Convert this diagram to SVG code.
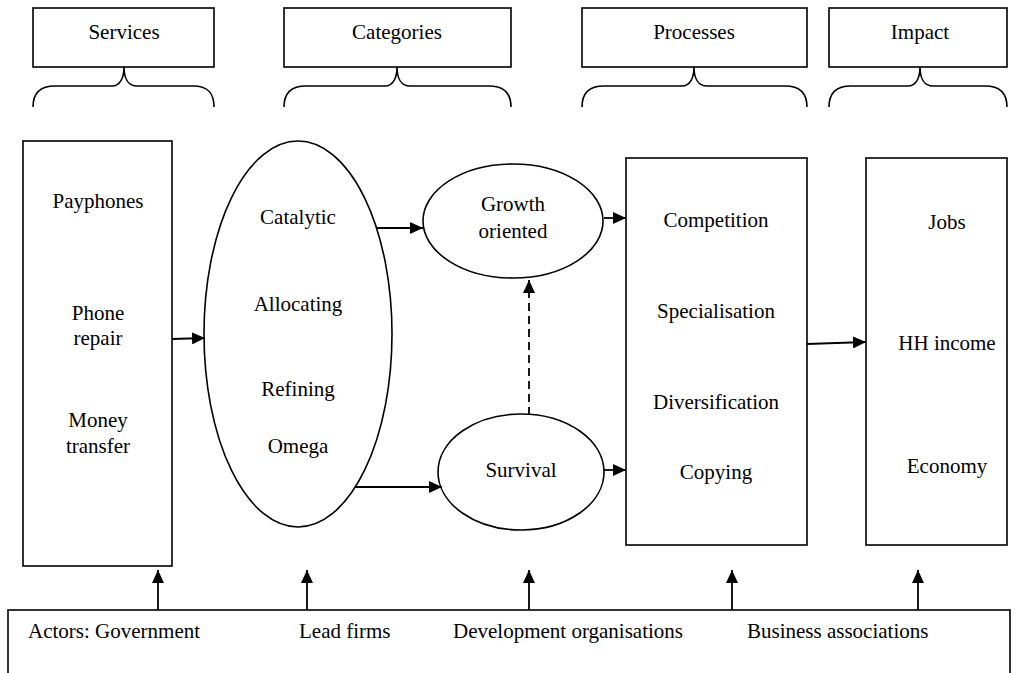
<svg xmlns="http://www.w3.org/2000/svg" width="1018" height="673" viewBox="0 0 1018 673" font-family="Liberation Serif">
<style>
.s{fill:none;stroke:#000;stroke-width:1.6}
.b{fill:#fff;stroke:#000;stroke-width:1.6}
.c{fill:none;stroke:#000;stroke-width:1.8}
.d{stroke-dasharray:8,5}
</style>
<defs>
<marker id="ah" markerUnits="userSpaceOnUse" markerWidth="14" markerHeight="12" refX="13" refY="6" orient="auto">
<path d="M0,0 L13,6 L0,12 Z" fill="#000"/>
</marker>
</defs>
<rect x="0" y="0" width="1018" height="673" fill="#fff"/>
<g id="hdr-services">
<rect class="b" x="33" y="8" width="181" height="59"/>
<text x="124" y="39" font-family="Liberation Serif" font-size="21" text-anchor="middle">Services</text>
<path class="s" d="M33,107 C33,93 40,86 55,86 L112,86 C120,86 124,78 124,67 C124,78 128,86 137,86 L193,86 C208,86 214,93 214,107"/>
</g>
<g id="hdr-categories">
<rect class="b" x="284" y="8" width="227" height="59"/>
<text x="397" y="39" font-family="Liberation Serif" font-size="21" text-anchor="middle">Categories</text>
<path class="s" d="M284,107 C284,93 291,86 306,86 L385,86 C393,86 397,78 397,67 C397,78 401,86 410,86 L489,86 C504,86 511,93 511,107"/>
</g>
<g id="hdr-processes">
<rect class="b" x="582" y="8" width="225" height="59"/>
<text x="694" y="39" font-family="Liberation Serif" font-size="21" text-anchor="middle">Processes</text>
<path class="s" d="M582,107 C582,93 589,86 604,86 L682,86 C690,86 694,78 694,67 C694,78 698,86 707,86 L785,86 C800,86 807,93 807,107"/>
</g>
<g id="hdr-impact">
<rect class="b" x="829" y="8" width="178" height="59"/>
<text x="920" y="39" font-family="Liberation Serif" font-size="21" text-anchor="middle">Impact</text>
<path class="s" d="M829,107 C829,93 836,86 851,86 L908,86 C916,86 920,78 920,67 C920,78 924,86 933,86 L985,86 C1000,86 1007,93 1007,107"/>
</g>

<g id="services">
<rect class="b" x="23" y="141" width="149" height="425"/>
<text x="98" y="208" font-family="Liberation Serif" font-size="21" text-anchor="middle">Payphones</text>
<text x="98" y="320" font-family="Liberation Serif" font-size="21" text-anchor="middle">Phone</text>
<text x="98" y="345" font-family="Liberation Serif" font-size="21" text-anchor="middle">repair</text>
<text x="98" y="427" font-family="Liberation Serif" font-size="21" text-anchor="middle">Money</text>
<text x="98" y="453" font-family="Liberation Serif" font-size="21" text-anchor="middle">transfer</text>
</g>
<g id="categories">
<ellipse class="b" cx="298" cy="334" rx="94" ry="193"/>
<text x="298" y="224" font-family="Liberation Serif" font-size="21" text-anchor="middle">Catalytic</text>
<text x="298" y="311" font-family="Liberation Serif" font-size="21" text-anchor="middle">Allocating</text>
<text x="298" y="396" font-family="Liberation Serif" font-size="21" text-anchor="middle">Refining</text>
<text x="298" y="453" font-family="Liberation Serif" font-size="21" text-anchor="middle">Omega</text>
</g>
<g id="growth">
<ellipse class="b" cx="513" cy="221" rx="90" ry="57"/>
<text x="513" y="211" font-family="Liberation Serif" font-size="21" text-anchor="middle">Growth</text>
<text x="513" y="238" font-family="Liberation Serif" font-size="21" text-anchor="middle">oriented</text>
</g>
<g id="survival">
<ellipse class="b" cx="521" cy="472" rx="83" ry="58"/>
<text x="521" y="477" font-family="Liberation Serif" font-size="21" text-anchor="middle">Survival</text>
</g>
<g id="processes">
<rect class="b" x="626" y="158" width="181" height="387"/>
<text x="716" y="227" font-family="Liberation Serif" font-size="21" text-anchor="middle">Competition</text>
<text x="716" y="318" font-family="Liberation Serif" font-size="21" text-anchor="middle">Specialisation</text>
<text x="716" y="409" font-family="Liberation Serif" font-size="21" text-anchor="middle">Diversification</text>
<text x="716" y="479" font-family="Liberation Serif" font-size="21" text-anchor="middle">Copying</text>
</g>
<g id="impact">
<rect class="b" x="866" y="158" width="141" height="387"/>
<text x="947" y="229" font-family="Liberation Serif" font-size="21" text-anchor="middle">Jobs</text>
<text x="947" y="350" font-family="Liberation Serif" font-size="21" text-anchor="middle">HH income</text>
<text x="947" y="473" font-family="Liberation Serif" font-size="21" text-anchor="middle">Economy</text>
</g>
<g id="actors">
<rect class="b" x="8" y="610" width="1002" height="80"/>
<text x="28" y="638" font-family="Liberation Serif" font-size="21">Actors: Government</text>
<text x="299" y="638" font-family="Liberation Serif" font-size="21">Lead firms</text>
<text x="453" y="638" font-family="Liberation Serif" font-size="21">Development organisations</text>
<text x="747" y="638" font-family="Liberation Serif" font-size="21">Business associations</text>
</g>
<g id="connectors">
<line class="c" x1="172" y1="339" x2="205" y2="338" marker-end="url(#ah)"/>
<line class="c" x1="377" y1="228" x2="423" y2="228" marker-end="url(#ah)"/>
<line class="c" x1="355" y1="487" x2="442" y2="487" marker-end="url(#ah)"/>
<line class="c d" x1="529" y1="415" x2="529" y2="280" marker-end="url(#ah)"/>
<line class="c" x1="604" y1="218" x2="626" y2="218" marker-end="url(#ah)"/>
<line class="c" x1="604" y1="470" x2="626" y2="470" marker-end="url(#ah)"/>
<line class="c" x1="807" y1="344" x2="866" y2="342" marker-end="url(#ah)"/>
<line class="c" x1="158" y1="610" x2="158" y2="570" marker-end="url(#ah)"/>
<line class="c" x1="307" y1="610" x2="307" y2="570" marker-end="url(#ah)"/>
<line class="c" x1="529" y1="610" x2="529" y2="570" marker-end="url(#ah)"/>
<line class="c" x1="732" y1="610" x2="732" y2="570" marker-end="url(#ah)"/>
<line class="c" x1="918" y1="610" x2="918" y2="570" marker-end="url(#ah)"/>
</g>
</svg>
